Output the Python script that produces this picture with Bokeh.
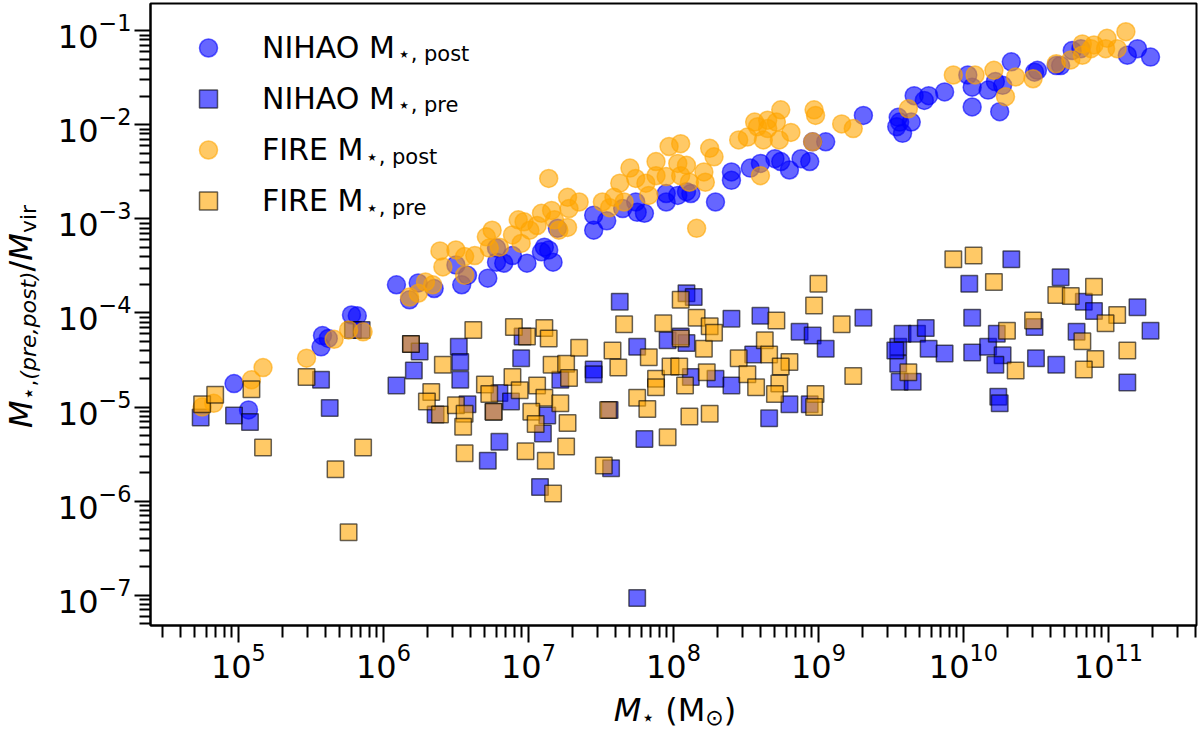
import numpy as np
from bokeh.plotting import figure
from bokeh.layouts import row, column
from bokeh.models import FixedTicker, Legend, LegendItem, Label, Div
from bokeh.embed import file_html
from bokeh.resources import INLINE

# ---- data: log10 stellar mass and log10 (M_star / M_vir) ----
nihao_post_logm = [4.97, 5.07, 5.57, 5.58, 5.62, 5.78, 5.82, 6.09, 6.18, 6.24,
                   6.35, 6.54, 6.58, 6.72, 6.50, 6.78, 6.78, 6.83, 6.89, 6.99,
                   7.09, 7.11, 7.14, 7.17, 7.20, 7.45, 7.45, 7.54, 7.65, 7.74,
                   7.75, 7.80, 7.95, 7.95, 8.03, 8.09, 8.12, 8.29, 8.40, 8.40,
                   8.53, 8.60, 8.70, 8.74, 8.80, 8.88, 8.94, 8.96, 9.05, 9.31,
                   9.54, 9.55, 9.56, 9.58, 9.64, 9.66, 9.73, 9.76, 9.87, 10.03,
                   10.06, 10.06, 10.17, 10.22, 10.25, 10.27, 10.33, 10.49, 10.51, 10.64,
                   10.67, 10.75, 10.81, 11.13, 11.20, 11.29]
nihao_post_logr = [-4.75, -5.03, -4.36, -4.24, -4.27, -4.02, -4.03, -3.70, -3.86, -3.68,
                   -3.74, -3.70, -3.60, -3.63, -3.49, -3.31, -3.46, -3.47, -3.39, -3.47,
                   -3.35, -3.30, -3.33, -3.46, -3.10, -2.96, -3.12, -3.02, -2.89, -2.82,
                   -2.93, -2.94, -2.73, -2.82, -2.75, -2.71, -2.73, -2.82, -2.50, -2.59,
                   -2.46, -2.41, -2.36, -2.39, -2.48, -2.36, -2.39, -2.18, -2.18, -1.90,
                   -2.02, -1.92, -1.97, -2.09, -1.97, -1.69, -1.74, -1.69, -1.65, -1.47,
                   -1.60, -1.81, -1.63, -1.54, -1.86, -1.58, -1.33, -1.44, -1.42, -1.37,
                   -1.37, -1.21, -1.19, -1.26, -1.19, -1.28]

nihao_pre_logm = [4.74, 4.97, 5.08, 5.57, 5.63, 6.19, 6.25, 6.21, 6.09, 6.36,
                  6.52, 6.53, 6.53, 6.58, 6.72, 6.80, 6.95, 6.96, 7.10, 7.13,
                  7.08, 7.22, 7.45, 7.45, 7.63, 7.56, 7.57, 7.75, 7.75, 7.80,
                  7.96, 8.09, 8.05, 8.09, 8.14, 8.12, 8.29, 8.40, 8.40, 8.60,
                  8.55, 8.66, 6.80, 6.88, 6.76, 8.87, 8.96, 9.05, 9.31, 8.80,
                  8.94, 9.55, 9.58, 9.55, 9.56, 9.65, 9.68, 9.74, 9.76, 9.87,
                  10.04, 10.33, 10.06, 10.06, 10.17, 10.23, 10.27, 10.22, 10.24, 10.25,
                  10.50, 10.49, 10.64, 10.67, 10.78, 10.83, 10.90, 11.20, 11.29, 11.13,
                  9.53, 5.79, 5.85]
nihao_pre_logr = [-5.11, -5.09, -5.16, -4.71, -5.01, -4.33, -4.41, -4.61, -4.77, -5.08,
                  -4.36, -4.52, -4.71, -4.97, -5.57, -5.37, -4.48, -4.25, -5.28, -5.09,
                  -5.85, -4.71, -4.60, -4.65, -3.88, -5.03, -5.65, -4.36, -7.03, -5.34,
                  -4.29, -4.32, -4.25, -3.79, -3.83, -4.68, -4.70, -4.77, -4.06, -4.03,
                  -4.44, -5.12, -4.85, -4.94, -5.05, -4.20, -4.24, -4.38, -4.05, -4.97,
                  -4.97, -4.36, -4.22, -4.54, -4.73, -4.73, -4.22, -4.16, -4.38, -4.43,
                  -3.69, -3.43, -4.05, -4.42, -4.36, -4.22, -4.45, -4.55, -4.89, -4.96,
                  -4.48, -4.15, -4.55, -3.62, -4.20, -3.88, -3.98, -3.94, -4.19, -4.74,
                  -4.40, -4.18, -4.18]

fire_post_logm = [4.75, 4.83, 5.09, 5.17, 5.47, 5.66, 5.76, 5.86, 6.18, 6.24,
                  6.29, 6.34, 6.39, 6.41, 6.56, 6.56, 6.50, 6.63, 6.71, 6.75,
                  6.73, 6.80, 6.89, 6.93, 6.97, 6.95, 7.01, 7.06, 7.09, 7.14,
                  7.16, 7.18, 7.21, 7.27, 7.27, 7.28, 7.35, 7.51, 7.56, 7.59,
                  7.66, 7.63, 7.70, 7.74, 7.81, 7.83, 7.88, 7.88, 7.95, 7.97,
                  8.05, 8.03, 8.09, 8.05, 8.11, 8.21, 8.22, 8.25, 8.28, 8.16,
                  8.45, 8.51, 8.56, 8.58, 8.60, 8.62, 8.65, 8.74, 8.71, 8.65,
                  8.81, 8.73, 8.97, 8.98, 9.16, 9.24, 8.96, 9.62, 9.93, 10.08,
                  10.21, 10.29, 10.36, 10.48, 10.64, 10.74, 10.82, 10.88, 10.90, 10.98,
                  10.99, 11.06, 11.12, 10.82]
fire_post_logr = [-5.00, -4.96, -4.71, -4.58, -4.48, -4.28, -4.18, -4.20, -3.83, -3.79,
                  -3.67, -3.70, -3.34, -3.51, -3.40, -3.60, -3.33, -3.39, -3.19, -3.12,
                  -3.31, -3.30, -3.17, -3.01, -3.03, -3.26, -3.12, -3.07, -2.94, -2.57,
                  -2.91, -3.01, -3.12, -3.09, -2.77, -2.89, -2.82, -2.82, -2.88, -2.77,
                  -2.82, -2.62, -2.46, -2.57, -2.62, -2.75, -2.39, -2.54, -2.55, -2.23,
                  -2.20, -2.41, -2.43, -2.54, -2.61, -2.50, -2.61, -2.25, -2.34, -3.10,
                  -2.16, -2.13, -1.97, -2.02, -2.54, -2.16, -1.95, -1.84, -1.97, -2.04,
                  -2.08, -2.16, -1.84, -1.90, -1.99, -2.04, -2.18, -1.83, -1.47, -1.47,
                  -1.42, -1.70, -1.49, -1.51, -1.35, -1.31, -1.14, -1.19, -1.15, -1.19,
                  -1.08, -1.19, -1.01, -1.26]

fire_pre_logm = [4.75, 4.84, 5.09, 5.17, 5.47, 5.67, 5.86, 5.76, 6.19, 6.41,
                 6.33, 6.30, 6.39, 6.62, 6.50, 6.56, 6.55, 6.56, 6.70, 6.73,
                 6.76, 6.90, 6.99, 7.11, 7.14, 6.89, 6.94, 7.06, 7.16, 7.26,
                 7.28, 7.11, 7.22, 7.02, 7.05, 7.27, 7.26, 6.98, 7.12, 7.17,
                 7.35, 7.58, 7.62, 7.52, 7.55, 7.66, 7.75, 7.82, 7.83, 7.88,
                 7.88, 7.96, 7.93, 7.98, 8.04, 8.05, 8.05, 8.16, 8.21, 8.08,
                 8.11, 8.23, 8.25, 8.25, 8.28, 8.45, 8.51, 8.57, 8.63, 9.00,
                 8.97, 9.16, 8.71, 8.66, 8.80, 8.74, 8.73, 8.70, 8.98, 8.97,
                 9.24, 9.93, 10.07, 10.21, 9.62, 10.30, 10.36, 10.48, 10.64, 10.74,
                 10.90, 10.82, 10.91, 10.83, 11.06, 10.98, 11.13]
fire_pre_logr = [-4.97, -4.87, -4.81, -5.43, -4.68, -5.66, -5.43, -6.33, -4.33, -4.55,
                 -4.84, -4.94, -5.08, -4.18, -4.98, -5.07, -5.21, -5.49, -4.76, -4.86,
                 -5.05, -4.15, -4.25, -4.16, -4.27, -4.68, -4.82, -4.77, -4.55, -4.54,
                 -4.69, -4.90, -4.96, -5.05, -5.18, -5.17, -5.42, -5.47, -5.57, -5.92,
                 -4.37, -4.40, -4.58, -5.62, -5.03, -4.12, -4.90, -5.02, -4.47, -4.70,
                 -4.79, -5.32, -4.11, -4.57, -4.57, -4.27, -3.86, -4.05, -4.38, -4.77,
                 -5.10, -4.63, -5.07, -4.14, -4.21, -4.48, -4.65, -4.79, -4.29, -3.69,
                 -3.92, -4.12, -4.08, -4.44, -4.52, -4.57, -4.75, -4.86, -4.86, -5.00,
                 -4.67, -3.43, -3.39, -3.67, -4.63, -4.19, -4.61, -4.08, -3.81, -3.82,
                 -3.72, -4.30, -4.49, -4.60, -4.02, -4.11, -4.40]

# axis ticks (decades)
x_tick_exponents = [5, 6, 7, 8, 9, 10, 11]
y_tick_exponents = [-7, -6, -5, -4, -3, -2, -1]

X_LIMITS = (10 ** 4.394, 10 ** 11.607)
Y_LIMITS = (10 ** -7.322, 10 ** -0.71)

# page geometry
PAGE_W, PAGE_H = 1200, 731
YLAB_W = 45           # strip holding the rotated y-axis title
XLAB_H = 34           # strip holding the x-axis title
MAIN_W = PAGE_W - YLAB_W
MAIN_H = PAGE_H - XLAB_H


def minor_ticks(lo, hi):
    return [m * 10.0 ** e for e in range(lo, hi + 1) for m in range(2, 10)]


p = figure(width=MAIN_W, height=MAIN_H, x_axis_type="log", y_axis_type="log",
           x_range=X_LIMITS, y_range=Y_LIMITS,
           output_backend="svg", toolbar_location=None,
           min_border_left=150 - YLAB_W, min_border_right=4,
           min_border_top=3, min_border_bottom=MAIN_H - 625)
p.grid.visible = False
p.outline_line_color = "black"
p.outline_line_width = 2
p.outline_line_alpha = 1.0
p.background_fill_color = "white"
p.border_fill_color = "white"

p.xaxis.ticker = FixedTicker(ticks=[10.0 ** e for e in x_tick_exponents],
                             minor_ticks=minor_ticks(4, 11))
p.yaxis.ticker = FixedTicker(ticks=[10.0 ** e for e in y_tick_exponents],
                             minor_ticks=minor_ticks(-8, -1))

for ax in (p.xaxis[0], p.yaxis[0]):
    ax.axis_line_width = 2
    ax.axis_line_color = "black"
    ax.major_tick_line_width = 2
    ax.minor_tick_line_width = 2
    ax.major_tick_line_color = "black"
    ax.minor_tick_line_color = "black"
    ax.major_tick_in = 0
    ax.minor_tick_in = 0
    ax.major_label_text_font = "DejaVu Sans"
    ax.major_label_text_font_size = "32px"
    ax.major_label_text_color = "black"

p.xaxis.major_tick_out = 17
p.xaxis.minor_tick_out = 12
p.xaxis.major_label_standoff = 0
p.yaxis.major_tick_out = 16
p.yaxis.minor_tick_out = 11
p.yaxis.major_label_standoff = 3


def to_lin(vals):
    return 10.0 ** np.asarray(vals)


r_np = p.scatter(to_lin(nihao_post_logm), to_lin(nihao_post_logr), marker="circle", size=18,
                 fill_color="blue", fill_alpha=0.6, line_color="blue", line_alpha=0.6,
                 line_width=1.5)
r_nr = p.scatter(to_lin(nihao_pre_logm), to_lin(nihao_pre_logr), marker="square", size=16.5,
                 fill_color="blue", fill_alpha=0.6, line_color="black", line_alpha=0.6,
                 line_width=1.5)
r_fp = p.scatter(to_lin(fire_post_logm), to_lin(fire_post_logr), marker="circle", size=18,
                 fill_color="orange", fill_alpha=0.6, line_color="orange", line_alpha=0.6,
                 line_width=1.5)
r_fr = p.scatter(to_lin(fire_pre_logm), to_lin(fire_pre_logr), marker="square", size=16.5,
                 fill_color="orange", fill_alpha=0.6, line_color="black", line_alpha=0.6,
                 line_width=1.5)

legend = Legend(items=[LegendItem(label="NIHAO M", renderers=[r_np]),
                       LegendItem(label="NIHAO M", renderers=[r_nr]),
                       LegendItem(label="FIRE M", renderers=[r_fp]),
                       LegendItem(label="FIRE M", renderers=[r_fr])],
                location="top_left", margin=0, padding=22,
                glyph_width=72, glyph_height=45, label_standoff=18, spacing=6,
                label_text_font="DejaVu Sans", label_text_font_size="30px",
                label_text_color="black",
                border_line_alpha=0, background_fill_alpha=0)
p.add_layout(legend)

FRAME_LEFT = 150.0
FRAME_BOTTOM = 625.0


def frame_text(text, cx, cy, size):
    """Subscript text inside the main frame, placed in page pixels."""
    p.add_layout(Label(x=cx - FRAME_LEFT, y=FRAME_BOTTOM - cy,
                       x_units="screen", y_units="screen", text=text,
                       text_font="DejaVu Sans", text_font_size=f"{size}px",
                       text_baseline="middle", text_align="left",
                       text_color="black"))


# legend subscripts (middle of the subscript line)
frame_text("\u22c6, post", 397, 53, 21)
frame_text("\u22c6, pre", 397, 104.5, 21)
frame_text("\u22c6, post", 365, 156, 21)
frame_text("\u22c6, pre", 365, 207.5, 21)

SUB = ('<span style="font-size:22px; vertical-align:-4px; line-height:0;">{}</span>')
FONT = "font-family:'DejaVu Sans'; color:black; white-space:nowrap; box-sizing:border-box;"

# y-axis title: M_star,(pre,post) / M_vir, reading upwards
y_title = ("<i>M</i>" + SUB.format("\u22c6,<i>(pre,post)</i>") + "/<i>M</i>"
           + SUB.format("vir"))
ylab = Div(width=YLAB_W, height=MAIN_H, margin=0,
           styles={"overflow": "visible"},
           text=('<div style="position:relative; left:5px; top:428px; margin:0; padding:0; '
                 'width:300px; height:32px; font-size:32px; line-height:32px; '
                 'transform:rotate(-90deg); transform-origin:0 0; ' + FONT + '">'
                 + y_title + '</div>'))

# x-axis title: M_star (M_sun), centred under the plot frame
x_title = "<i>M</i>" + SUB.format("\u22c6") + " (M" + SUB.format("\u2299") + ")"
xlab = Div(width=PAGE_W, height=XLAB_H, margin=0,
           styles={"overflow": "visible"},
           text=('<div style="position:relative; left:0px; top:-3px; margin:0; '
                 'padding:0 0 0 150px; width:1200px; height:32px; text-align:center; '
                 'font-size:32px; line-height:32px; ' + FONT + '">'
                 + x_title + '</div>'))

page = column(row(ylab, p), xlab)
open("out.html", "w").write(file_html(page, INLINE))
